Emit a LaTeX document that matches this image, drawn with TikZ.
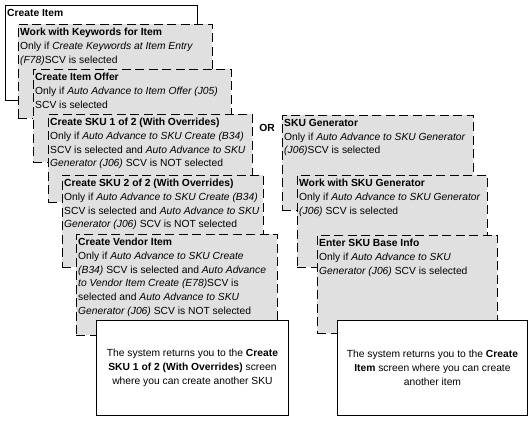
\documentclass[tikz,border=0pt]{standalone}
\usepackage{fontspec}
\setmainfont{Liberation Sans}
\definecolor{boxgray}{RGB}{224,224,224}
\begin{document}
\begin{tikzpicture}[x=1pt,y=-1pt,
  gbox/.style={draw=black, dash pattern=on 9pt off 4.5pt, fill=boxgray, line width=0.9pt, anchor=north west, inner sep=0pt},
  wbox/.style={draw=black, fill=white, line width=0.9pt, anchor=north west, inner sep=0pt},
  txt/.style={anchor=north west, inner sep=0pt, align=left, font=\fontsize{10.3}{13.7}\selectfont},
  ctxt/.style={inner sep=0pt, align=center, font=\fontsize{10.3}{13.7}\selectfont}]
\useasboundingbox (0,0) rectangle (532,421);
\fill[white] (0,0) rectangle (532,421);
% left column
\node[wbox, minimum width=192pt, minimum height=95pt] (b1) at (5,5) {};
\node[txt] (t1) at ([xshift=2pt,yshift=-4pt]b1.north west) {\textbf{Create Item}};
\node[gbox, minimum width=194pt, minimum height=94pt] (b2) at (18,24) {};
\node[txt] (t2) at ([xshift=2pt,yshift=-4pt]b2.north west) {\textbf{Work with Keywords for Item}\\Only if \textit{Create Keywords at Item Entry}\\\textit{(F78)}SCV is selected};
\node[gbox, minimum width=198pt, minimum height=93pt] (b3) at (33,69) {};
\node[txt] (t3) at ([xshift=2pt,yshift=-4pt]b3.north west) {\textbf{Create Item Offer}\\Only if \textit{Auto Advance to Item Offer (J05)}\\SCV is selected};
\node[gbox, minimum width=204pt, minimum height=88pt] (b4) at (48,114) {};
\node[txt] (t4) at ([xshift=2pt,yshift=-4pt]b4.north west) {\textbf{Create SKU 1 of 2 (With Overrides)}\\Only if \textit{Auto Advance to SKU Create (B34)}\\SCV is selected and \textit{Auto Advance to SKU}\\\textit{Generator (J06)} SCV is NOT selected};
\node[gbox, minimum width=201pt, minimum height=92pt] (b5) at (62,175) {};
\node[txt] (t5) at ([xshift=2pt,yshift=-4pt]b5.north west) {\textbf{Create SKU 2 of 2 (With Overrides)}\\Only if \textit{Auto Advance to SKU Create (B34)}\\SCV is selected and \textit{Auto Advance to SKU}\\\textit{Generator (J06)} SCV is NOT selected};
\node[gbox, minimum width=201pt, minimum height=101pt] (b6) at (76,234) {};
\node[txt] (t6) at ([xshift=2pt,yshift=-4pt]b6.north west) {\textbf{Create Vendor Item}\\Only if \textit{Auto Advance to SKU Create}\\\textit{(B34)} SCV is selected and \textit{Auto Advance}\\\textit{to Vendor Item Create (E78)}SCV is\\selected and \textit{Auto Advance to SKU}\\\textit{Generator (J06)} SCV is NOT selected};
\node[wbox, minimum width=192pt, minimum height=95pt] (b7) at (96,320) {};
\node[ctxt] (t7) at (b7.center) {The system returns you to the \textbf{Create}\\\textbf{SKU 1 of 2 (With Overrides)} screen\\where you can create another SKU};
% OR
\node[ctxt, font=\fontsize{10.3}{13.7}\selectfont\bfseries] (or) at (267,128) {OR};
% right column
\node[gbox, minimum width=191pt, minimum height=95pt] (b8) at (282,115) {};
\node[txt] (t8) at ([xshift=2pt,yshift=-4pt]b8.north west) {\textbf{SKU Generator}\\Only if \textit{Auto Advance to SKU Generator}\\\textit{(J06)}SCV is selected};
\node[gbox, minimum width=190pt, minimum height=92pt] (b9) at (297,175) {};
\node[txt] (t9) at ([xshift=2pt,yshift=-4pt]b9.north west) {\textbf{Work with SKU Generator}\\Only if \textit{Auto Advance to SKU Generator}\\\textit{(J06)} SCV is selected};
\node[gbox, minimum width=180pt, minimum height=98pt] (b10) at (317,235) {};
\node[txt] (t10) at ([xshift=2pt,yshift=-4pt]b10.north west) {\textbf{Enter SKU Base Info}\\Only if \textit{Auto Advance to SKU}\\\textit{Generator (J06)} SCV is selected};
\node[wbox, minimum width=190pt, minimum height=95pt] (b11) at (337,320) {};
\node[ctxt] (t11) at (b11.center) {The system returns you to the \textbf{Create}\\\textbf{Item} screen where you can create\\another item};
\end{tikzpicture}
\end{document}
